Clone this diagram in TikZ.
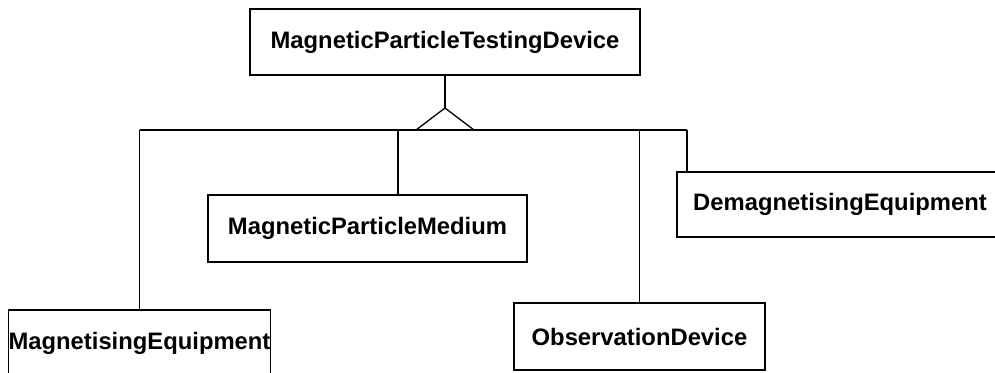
\documentclass[tikz,border=0pt]{standalone}
\usepackage{fontspec}
\setmainfont{Liberation Sans}
\begin{document}
\begin{tikzpicture}[x=1pt,y=-1pt,
  classbox/.style={draw=black, line width=1.3pt, fill=white, inner sep=0pt,
    font=\fontsize{23.8}{26}\selectfont\bfseries},
  link/.style={draw=black, line width=1.3pt}]
\useasboundingbox (0,0) rectangle (995,372);
\clip (0,0) rectangle (995,372);

% classes
\node[classbox, minimum width=390pt, minimum height=66pt] (top) at (445,42) {MagneticParticleTestingDevice};
\node[classbox, minimum width=319pt, minimum height=67pt] (medium) at (367.5,228.5) {MagneticParticleMedium};
\node[classbox, minimum width=326pt, minimum height=65pt] (demag) at (840,204.5) {DemagnetisingEquipment};
\node[classbox, minimum width=251pt, minimum height=67pt] (obs) at (639.5,336.5) {ObservationDevice};
\node[classbox, minimum width=261pt, minimum height=67pt] (mag) at (139.5,343.5) {MagnetisingEquipment};

% generalisation triangle and shared bus
\coordinate (apex) at (445,108);
\coordinate (busL) at (139.5,130);
\coordinate (busR) at (687,130);
\coordinate (medTap) at (398,130);
\draw[link] (top.south) -- (apex);
\draw[link] (416,130) -- (apex) -- (474,130);
\draw[link] (busL) -- (busR);

% branches to the subclasses
\draw[link] (busL) -- (mag.north);
\draw[link] (medTap) -- (medTap |- medium.north);
\draw[link] (obs.north |- busL) -- (obs.north);
\draw[link] (busR) -- (busR |- demag.north);
\end{tikzpicture}
\end{document}
